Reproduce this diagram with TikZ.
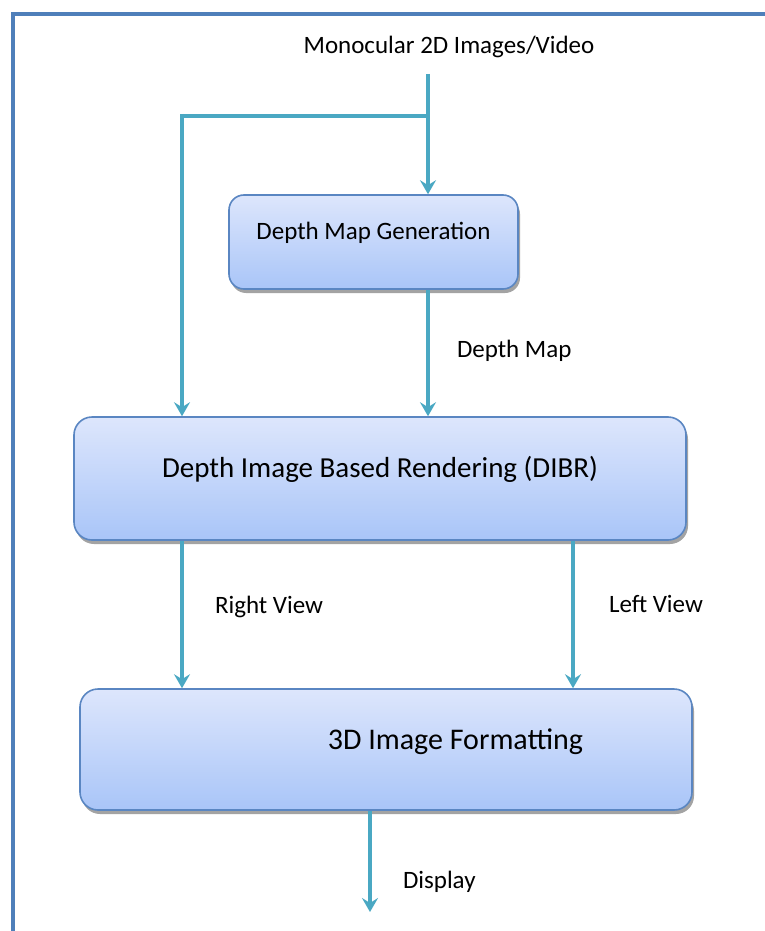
\documentclass[tikz,border=0pt]{standalone}
\usepackage{fontspec}
\setmainfont{Carlito}
\usetikzlibrary{arrows.meta,shadows,calc}
\definecolor{framecol}{HTML}{4F7FBA}
\definecolor{arrowcol}{HTML}{4AA8C3}
\definecolor{boxline}{HTML}{5A86C2}
\definecolor{boxtop}{HTML}{DDE6FC}
\definecolor{boxbot}{HTML}{A9C5F8}
\tikzset{
  flowbox/.style={draw=boxline, line width=1.6pt, top color=boxtop, bottom color=boxbot,
    inner sep=0pt, font=\fontsize{25}{30}\selectfont,
    drop shadow={shadow xshift=2pt, shadow yshift=-4pt, fill=black!45, opacity=0.8}},
  conn/.style={draw=arrowcol, line width=4pt},
  arr/.style={conn, -{Stealth[length=14pt,width=16pt,inset=5pt]}},
  lbl/.style={font=\fontsize{25}{30}\selectfont, inner sep=0pt},
}
\begin{document}
\begin{tikzpicture}[x=1pt,y=-1pt]
\useasboundingbox (0,0) rectangle (765,931);
\fill[white] (0,0) rectangle (765,931);
% frame
\draw[framecol, line width=4pt] (13,931) -- (13,14) -- (765,14);

% nodes
\node[lbl] (src) at (449,47) {Monocular 2D Images/Video};
\coordinate (top) at (428,74);
\coordinate (split) at (428,116);
\coordinate (corner) at (182,116);

\node[flowbox, rounded corners=15pt, minimum width=289pt, minimum height=94pt]
  (dmg) at (373.5,242) {\raisebox{23pt}{Depth Map Generation}};
\node[flowbox, rounded corners=18pt, minimum width=612pt, minimum height=123pt,
  font=\fontsize{29}{34}\selectfont]
  (dibr) at (380,478.5) {\raisebox{23pt}{Depth Image Based Rendering (DIBR)}};
\node[flowbox, rounded corners=18pt, minimum width=612pt, minimum height=121pt,
  font=\fontsize{30}{36}\selectfont]
  (fmt) at (386,749.5) {\hspace*{139pt}\raisebox{20pt}{3D Image Formatting}};

\coordinate (dispend) at (370,912);

% connectors
\draw[conn] (top) -- (split);
\draw[arr] (split) -- (split |- dmg.north);
\draw[conn] (corner) -- ($(split)+(2,0)$);
\draw[arr] ($(corner)+(0,-2)$) -- (corner |- dibr.north);
\draw[arr] (dmg.south -| split) -- (split |- dibr.north)
  node[lbl, pos=0.48, right=27pt] (dml) {Depth Map};
\draw[arr] (dibr.south -| corner) -- (corner |- fmt.north)
  node[lbl, pos=0.45, right=31pt] (rvl) {Right View};
\draw[arr] (dibr.south -| 573,0) -- (573,0 |- fmt.north)
  node[lbl, pos=0.43, right=34pt] (lvl) {Left View};
\draw[arr] (fmt.south -| dispend) -- (dispend)
  node[lbl, pos=0.7, right=31pt] (dl) {Display};
\end{tikzpicture}
\end{document}
